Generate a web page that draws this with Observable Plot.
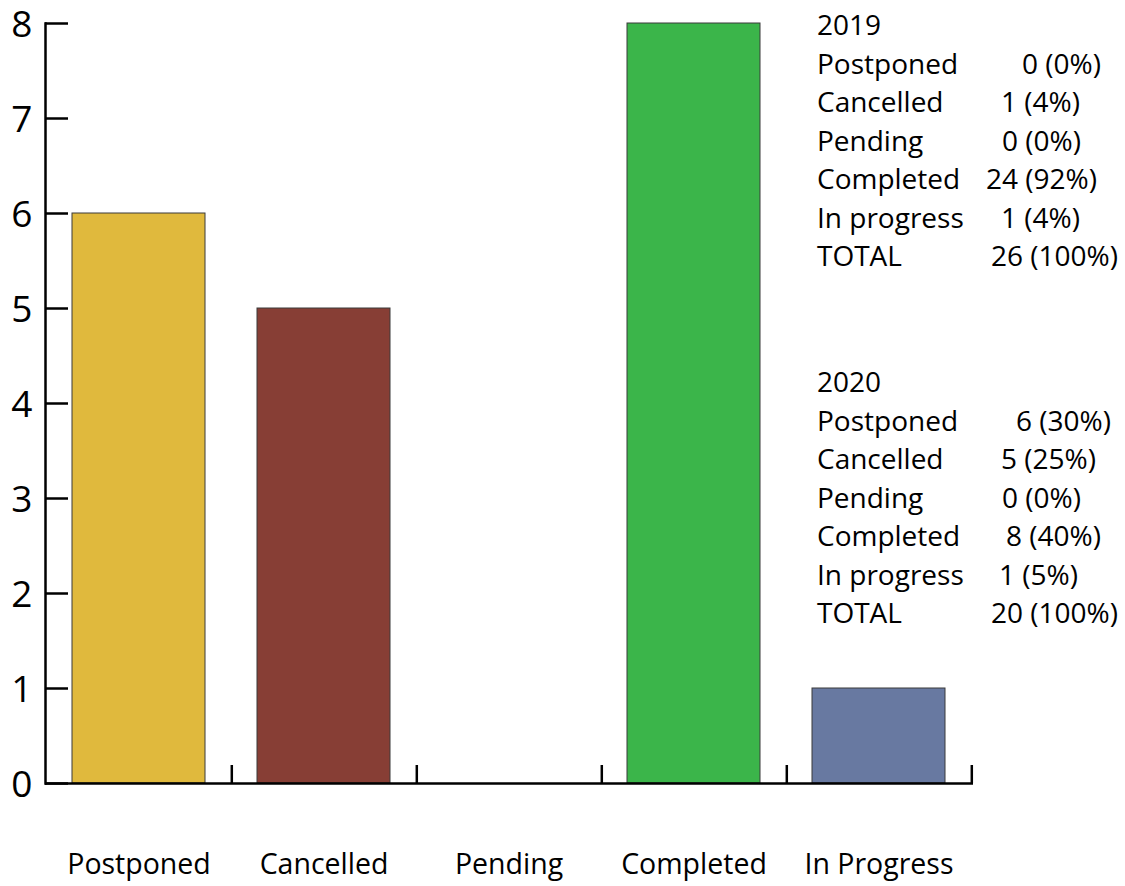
<!DOCTYPE html>
<html><head><meta charset="utf-8">
<script src="https://cdn.jsdelivr.net/npm/d3@7"></script>
<script src="https://cdn.jsdelivr.net/npm/@observablehq/plot@0.6"></script>
<style>
body{margin:0;background:#fff;font-family:"Open Sans",sans-serif;}
#wrap{position:relative;width:1125px;height:886px;}
.stats{position:absolute;left:817px;font-size:28px;line-height:38.5px;color:#000;width:308px;}
.row{position:relative;height:38.5px;white-space:nowrap;}
.row span.v{position:absolute;}
</style></head><body><div id="wrap"></div>
<script>
// ---- data ----
const categories = ["Postponed", "Cancelled", "Pending", "Completed", "In Progress"];
const counts2020 = [6, 5, 0, 8, 1];
const barColors = ["#e0b93d", "#873e35", "#cccccc", "#3bb54a", "#6879a1"];
const yTicks = [0, 1, 2, 3, 4, 5, 6, 7, 8];

const statLabels = ["Postponed", "Cancelled", "Pending", "Completed", "In progress", "TOTAL"];
const counts2019Table = [0, 1, 0, 24, 1, 26];
const pct2019Table = [0, 4, 0, 92, 4, 100];
const counts2020Table = [6, 5, 0, 8, 1, 20];
const pct2020Table = [30, 25, 0, 40, 5, 100];

// ---- layout (style only) ----
const valueLeft2019 = [205, 184, 185, 169, 184, 174];
const valueLeft2020 = [199, 184, 185, 189, 182, 174];

const data = categories.map((c, i) => ({category: c, value: counts2020[i]}));
const mL = 45, mR = 152, W = 1125;
const step = (W - mL - mR) / categories.length;

const chart = Plot.plot({
  width: W, height: 886,
  marginTop: 23, marginBottom: 103, marginLeft: mL, marginRight: mR,
  style: {fontFamily: "'Open Sans', sans-serif", background: "white", color: "black", overflow: "visible"},
  x: {domain: categories, paddingInner: 0.28, paddingOuter: 0.14, align: 0.5, label: null},
  y: {domain: [0, 8], label: null},
  color: {domain: categories, range: barColors},
  marks: [
    Plot.barY(data.filter(d => d.value > 0), {x: "category", y: "value", fill: "category", stroke: "#3a3a3a", strokeWidth: 1}),
    Plot.frame({anchor: "left", strokeWidth: 2.5}),
    Plot.ruleY([0], {strokeWidth: 2.5}),
    Plot.axisY({ticks: yTicks, tickSize: -23, text: null, strokeWidth: 2.5}),
    Plot.axisY({ticks: yTicks, tickSize: 0, tickPadding: 13, fontSize: 37, dy: 2, tickFormat: d => d}),
    Plot.axisX({tickSize: -18, text: null, dx: step / 2, strokeWidth: 2.5}),
    Plot.axisX({tickSize: 0, tickPadding: 70, fontSize: 28.5})
  ]
});
const wrap = document.getElementById("wrap");
wrap.appendChild(chart);

function table(year, counts, pcts, lefts, top) {
  const div = document.createElement("div");
  div.className = "stats";
  div.style.top = top + "px";
  const head = document.createElement("div");
  head.className = "row";
  head.textContent = year;
  div.appendChild(head);
  statLabels.forEach((lab, i) => {
    const r = document.createElement("div");
    r.className = "row";
    const a = document.createElement("span");
    a.textContent = lab;
    const b = document.createElement("span");
    b.className = "v";
    b.style.left = lefts[i] + "px";
    b.textContent = `${counts[i]} (${pcts[i]}%)`;
    r.appendChild(a); r.appendChild(b);
    div.appendChild(r);
  });
  wrap.appendChild(div);
}
table("2019", counts2019Table, pct2019Table, valueLeft2019, 5);
table("2020", counts2020Table, pct2020Table, valueLeft2020, 362);
</script>
</body></html>
